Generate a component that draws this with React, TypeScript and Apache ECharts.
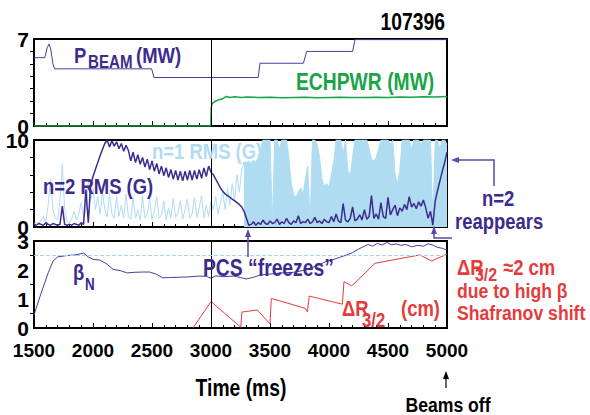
import React, { useEffect, useRef } from "react";
import * as echarts from "echarts";

const FONT = "'Liberation Sans', Arial, Helvetica, sans-serif";
const SX = 0.84;
const PURPLE = "#3d2b8e";
const PURPLE_LINE = "#4a3c9e";
const LIGHTBLUE = "#b0dcf2";
const GREEN = "#17a548";
const RED = "#e43c3c";

const T_MIN = 1500;
const T_MAX = 5000;
const T_INTERVAL = 500;

// Top panel: P_BEAM (MW)
const pbeamTimes = [1500, 1592, 1612, 1627, 1642, 1660, 1675, 2497, 2517, 3400, 3415, 3783, 3811, 4200, 4220, 5000];
const pbeamValues = [5.5, 5.5, 6.3, 6.6, 6.2, 5.0, 4.6, 4.6, 3.9, 3.9, 5.05, 5.05, 6.0, 6.0, 6.95, 6.95];

// Top panel: ECHPWR (MW)
const echTimes = [1500, 2998, 3002, 3010, 3030, 3060, 3100, 3130, 3160, 3200, 3260, 3300, 3400, 3500, 3600, 3700, 3800, 3900, 4000, 4100, 4200, 4300, 4400, 4500, 4600, 4700, 4800, 4900, 5000];
const echValues = [0, 0, 1.5, 1.8, 1.95, 2.1, 2.2, 2.38, 2.3, 2.35, 2.3, 2.33, 2.3, 2.32, 2.28, 2.3, 2.31, 2.27, 2.3, 2.32, 2.3, 2.29, 2.32, 2.3, 2.33, 2.32, 2.35, 2.34, 2.38];

// Middle panel: n=2 RMS (G), sampled every 20 ms from 1500
const n2Start = 1500;
const n2Step = 20;
const n2Values = [
  0.3, 0.2, 0.4, 0.3, 0.2, 0.5, 0.3, 0.2, 0.4, 0.3, 0.2, 0.3,
  2.4, 0.3, 0.2, 0.3, 0.2, 0.4, 0.3, 0.2, 0.5, 0.3,
  4.3, 0.5, 4.8, 5.8, 6.6, 7.4, 8.2, 8.9, 9.6,
  10, 9.2, 9.9, 9.3, 9.8, 9.0, 9.6, 8.7, 9.4,
  8.8, 7.6, 8.6, 7.4, 8.3, 7.2, 8.0, 6.9, 7.8, 6.6, 7.6, 6.4, 7.3, 6.1, 7.0, 5.9, 6.8, 5.7,
  6.6, 5.5, 6.5, 5.4, 6.4, 5.3, 6.4, 5.4, 6.5, 5.4, 6.5, 5.5, 6.6, 5.6, 6.8, 5.8, 7.0, 6.3,
  6.0, 5.5, 5.0, 4.5, 4.1, 3.8, 3.6, 3.4, 3.2, 3.0, 2.8, 2.6, 2.3, 1.8, 1.0, 0.2,
  0.3, 0.6, 0.2, 0.5, 0.3, 0.8, 0.4, 0.3, 0.7, 0.4,
  0.5, 0.9, 0.3, 0.6, 0.4, 1.0, 0.5, 0.3, 0.7, 0.5,
  1.3, 0.4, 0.6, 0.5, 0.9, 0.4, 0.6, 1.1, 0.5, 0.7,
  0.4, 0.9, 0.6, 0.5, 1.2, 0.6, 1.5, 0.7, 0.5, 2.7,
  0.8, 0.6, 1.0, 2.3, 0.7, 0.9, 1.4, 0.8, 2.0, 0.9,
  1.2, 3.6, 1.0, 1.5, 0.9, 2.8, 1.2, 1.0, 3.4,
  1.4, 2.0, 2.5, 1.3, 2.2, 1.8, 2.6, 2.0, 3.5, 2.3, 2.7, 2.1, 2.9, 2.4, 3.1, 2.2, 1.0, 1.8, 0.2,
  3.0, 4.2, 5.3, 6.4, 7.4, 8.6,
];

// Middle panel: n=1 RMS (G), before the mode grows (thin line), every 20 ms
const n1EarlyStart = 1500;
const n1EarlyStep = 20;
const n1EarlyValues = [
  0.3, 0.5, 0.4, 0.8, 1.2, 0.6, 2.5, 5.5, 2.0, 1.0,
  0.8, 3.0, 7.2, 2.0, 0.6, 0.5, 1.0, 1.8, 0.8, 1.5,
  2.8, 1.0, 2.0, 5.2, 3.0, 4.5, 2.0, 3.5, 1.5, 4.0,
  2.0, 1.2, 3.8, 1.5, 1.0, 3.5, 1.2, 2.5, 1.0, 3.8,
  1.2, 0.9, 3.4, 1.0, 2.0, 0.8, 3.6, 1.0, 1.5, 3.2,
  0.9, 1.8, 3.5, 1.0, 1.4, 3.0, 0.8, 2.2, 1.0, 3.3,
  1.1, 1.6, 3.0, 0.9, 2.0, 3.2, 1.0, 1.5, 3.4, 1.1,
  2.2, 3.6, 1.0, 2.5, 1.2, 3.0, 2.0, 3.5, 1.5, 2.8,
  4.0, 2.0, 4.5, 2.5, 5.0, 3.0, 6.0, 4.0, 6.5, 7.5,
];

// Middle panel: n=1 RMS (G), saturated phase (upper envelope), every 20 ms from 3280
const n1LateStart = 3280;
const n1LateStep = 20;
const n1LateValues = [
  7.5, 7.4, 7.6, 7.3, 7.7, 7.5, 8.0, 9.0, 10, 10,
  10, 10, 0.5, 10, 10, 9.0, 10, 10, 10, 8.0,
  5.0, 3.8, 3.4, 4.0, 4.5, 3.8, 5.5, 7.0, 0.5, 10,
  10, 9.5, 8.0, 5.5, 4.7, 5.0, 4.6, 6.0, 7.5, 10,
  10, 10, 8.5, 10, 6.5, 6.0, 8.0, 10, 10, 10,
  10, 10, 10, 9.0, 7.8, 7.6, 8.0, 9.0, 10, 10,
  10, 10, 9.5, 10, 6.0, 5.0, 6.5, 10, 10, 10,
  10, 9.0, 10, 10, 10, 9.5, 10, 10, 10, 10,
  0.5, 10, 10, 9.0, 10, 10, 9.5,
];

// Bottom panel: beta_N
const betaTimes = [1500, 1560, 1620, 1660, 1700, 1780, 1850, 1920, 1960, 2000, 2060, 2120, 2170, 2230, 2290, 2350, 2420, 2480, 2540, 2590, 2650, 2720, 2800, 2900, 2960, 3000, 3040, 3100, 3190, 3250, 3300, 3360, 3420, 3500, 3600, 3700, 3800, 3900, 3980, 4050, 4100, 4150, 4200, 4250, 4290, 4330, 4370, 4410, 4450, 4490, 4530, 4570, 4610, 4650, 4700, 4750, 4800, 4840, 4880, 4920, 4960, 5000];
const betaValues = [0.45, 1.2, 1.9, 2.3, 2.45, 2.5, 2.52, 2.58, 2.45, 2.37, 2.34, 2.2, 2.02, 1.98, 1.9, 1.92, 1.93, 1.93, 1.85, 1.73, 1.74, 1.75, 1.76, 1.79, 1.78, 1.72, 1.8, 1.77, 1.79, 1.74, 1.69, 1.75, 1.83, 1.86, 1.9, 1.92, 2.0, 2.15, 2.3, 2.38, 2.45, 2.52, 2.6, 2.72, 2.8, 2.88, 2.82, 2.92, 2.86, 2.95, 2.87, 2.9, 2.85, 2.88, 2.8, 2.85, 2.82, 2.9, 2.86, 2.78, 2.75, 2.68];

// Bottom panel: Delta R_3/2 (cm)
const dRTimes = [2847, 3000, 3252, 3262, 3392, 3500, 3511, 3797, 3817, 3833, 4113, 4127, 4192, 4390, 4771, 4870, 5000];
const dRValues = [0, 0.91, 0.03, 0.55, 0.62, 0.14, 1.02, 0.68, 0.56, 1.1, 0.82, 1.6, 1.45, 2.23, 2.52, 2.31, 2.55];

const BETA_REF = 2.5;
const MARK_TIME = 3000;

const yMaxes = [7, 10, 3];
const yIntervals = [7, 10, 1];
const yMinorSplits = [7, 5, 2];

function pairs(t: number[], v: number[]) {
  return t.map((x, i) => [x, v[i]]);
}
function sampled(start: number, step: number, v: number[]) {
  return v.map((y, i) => [start + i * step, y]);
}

function txt(text: string, x: number, y: number, size: number, color: string, align = "left", vAlign = "middle") {
  return {
    type: "text",
    x,
    y,
    scaleX: SX,
    z: 100,
    style: {
      text,
      fill: color,
      font: `bold ${size}px ${FONT}`,
      textAlign: align,
      textVerticalAlign: vAlign,
      align,
      verticalAlign: vAlign,
    },
  };
}

function arrowHead(tip: [number, number], dir: "up" | "left", color: string) {
  const [x, y] = tip;
  const pts = dir === "up"
    ? [[x, y], [x - 3, y + 8], [x + 3, y + 8]]
    : [[x, y], [x + 8, y - 3], [x + 8, y + 3]];
  return { type: "polygon", z: 100, shape: { points: pts }, style: { fill: color } };
}

export default function App() {
  const ref = useRef<HTMLDivElement>(null);
  useEffect(() => {
    if (!ref.current) return;
    const chart = echarts.init(ref.current, undefined, { renderer: "svg" });

    const grids = [39, 140, 241].map((top) => ({
      left: 34,
      top,
      width: 413,
      height: 87,
      show: true,
      borderColor: "#000",
      borderWidth: 2,
      backgroundColor: "transparent",
    }));

    const xAxes = [0, 1, 2].map((i) => ({
      type: "value",
      gridIndex: i,
      min: T_MIN,
      max: T_MAX,
      interval: T_INTERVAL,
      axisLine: { show: true, lineStyle: { color: "#000", width: 2 } },
      axisTick: { show: true, inside: true, length: 5, lineStyle: { color: "#000", width: 1 } },
      minorTick: { show: true, splitNumber: 5, length: 3, lineStyle: { color: "#000", width: 1 } },
      splitLine: { show: false },
      minorSplitLine: { show: false },
      axisLabel: {
        show: i === 2,
        color: "#000",
        fontSize: 19,
        fontWeight: "bold",
        fontFamily: FONT,
        margin: 13,
        formatter: (v: number) => String(v),
      },
    }));

    const yAxes = [0, 1, 2].map((i) => ({
      type: "value",
      gridIndex: i,
      min: 0,
      max: yMaxes[i],
      interval: yIntervals[i],
      axisLine: { show: true, lineStyle: { color: "#000", width: 2 } },
      axisTick: { show: false },
      minorTick: { show: true, splitNumber: yMinorSplits[i], length: 4, lineStyle: { color: "#000", width: 1 } },
      splitLine: { show: false },
      minorSplitLine: { show: false },
      axisLabel: {
        color: "#000",
        fontSize: 21,
        fontWeight: "bold",
        fontFamily: FONT,
        margin: 5,
      },
    }));

    const vMark = (extra: any[] = []) => ({
      silent: true,
      symbol: ["none", "none"],
      label: { show: false },
      animation: false,
      data: [{ xAxis: MARK_TIME, lineStyle: { color: "#000", width: 1, type: "solid" } }, ...extra],
    });

    const line = (name: string, data: any[], xi: number, color: string, width: number, extra: any = {}) => ({
      type: "line",
      name,
      xAxisIndex: xi,
      yAxisIndex: xi,
      data,
      showSymbol: false,
      symbol: "none",
      clip: true,
      lineStyle: { color, width },
      itemStyle: { color },
      ...extra,
    });

    const option: any = {
      animation: false,
      backgroundColor: "#fff",
      grid: grids,
      xAxis: xAxes,
      yAxis: yAxes,
      series: [
        line("ECHPWR", pairs(echTimes, echValues), 0, GREEN, 1.5, { z: 2 }),
        line("PBEAM", pairs(pbeamTimes, pbeamValues), 0, PURPLE_LINE, 1, { z: 3, markLine: vMark() }),
        line("n=1 early", sampled(n1EarlyStart, n1EarlyStep, n1EarlyValues), 1, LIGHTBLUE, 1, { z: 1 }),
        line("n=1 late", sampled(n1LateStart, n1LateStep, n1LateValues), 1, LIGHTBLUE, 1, {
          z: 1,
          areaStyle: { color: LIGHTBLUE, opacity: 1 },
        }),
        line("n=2", sampled(n2Start, n2Step, n2Values), 1, PURPLE, 1.5, { z: 3, markLine: vMark() }),
        line("betaN", pairs(betaTimes, betaValues), 2, PURPLE_LINE, 1, {
          z: 3,
          markLine: vMark([{ yAxis: BETA_REF, lineStyle: { color: "#a9d3ee", width: 1, type: "dashed" } }]),
        }),
        line("dR32", pairs(dRTimes, dRValues), 2, RED, 1, { z: 3 }),
      ],
      graphic: [
        txt("107396", 445, 22, 23, "#000", "right"),
        txt("P", 74, 55, 22, PURPLE),
        txt("BEAM", 88, 62, 18, PURPLE),
        txt("(MW)", 136, 55, 22, PURPLE),
        txt("ECHPWR (MW)", 296, 82, 23, GREEN),
        txt("n=1 RMS (G)", 152, 151, 22, LIGHTBLUE),
        txt("n=2 RMS (G)", 43, 186, 22, PURPLE),
        txt("n=2", 482, 198, 22, PURPLE),
        txt("reappears", 455, 221, 22, PURPLE),
        txt("PCS \u201Cfreezes\u201D", 203, 268, 23, PURPLE),
        txt("\u03B2", 73, 272, 22, PURPLE),
        txt("N", 85, 285, 16, PURPLE),
        txt("\u0394R", 342, 308, 22, RED),
        txt("3/2", 362, 320, 20, RED),
        txt("(cm)", 401, 308, 22, RED),
        txt("\u0394R", 457, 267, 22, RED),
        txt("3/2", 475, 275, 19, RED),
        txt("\u22482 cm", 503, 267, 22, RED),
        txt("due to high \u03B2", 457, 290, 21, RED),
        txt("Shafranov shift", 457, 312, 21, RED),
        txt("Time (ms)", 241, 388, 23, "#000", "center"),
        txt("Beams off", 448, 404, 21, "#000", "center"),
        // PCS arrow
        { type: "line", z: 100, shape: { x1: 248, y1: 257, x2: 248, y2: 236 }, style: { stroke: "#5b4aa5", lineWidth: 1.5 } },
        arrowHead([248, 229], "up", "#5b4aa5"),
        // n=2 reappears arrows
        { type: "polyline", z: 100, shape: { points: [[494, 186], [494, 160], [458, 160]] }, style: { stroke: "#5b4aa5", lineWidth: 1.5, fill: "none" } },
        arrowHead([451, 160], "left", "#5b4aa5"),
        { type: "polyline", z: 100, shape: { points: [[452, 238], [434, 238], [434, 233]] }, style: { stroke: "#5b4aa5", lineWidth: 1.5, fill: "none" } },
        arrowHead([434, 226], "up", "#5b4aa5"),
        // Beams off arrow
        { type: "line", z: 100, shape: { x1: 446, y1: 388, x2: 446, y2: 377 }, style: { stroke: "#000", lineWidth: 1.2 } },
        arrowHead([446, 371], "up", "#000"),
      ],
    };
    chart.setOption(option);
    return () => chart.dispose();
  }, []);
  return <div ref={ref} style={{ position: "fixed", left: 0, top: 0, width: 590, height: 415 }} />;
}
